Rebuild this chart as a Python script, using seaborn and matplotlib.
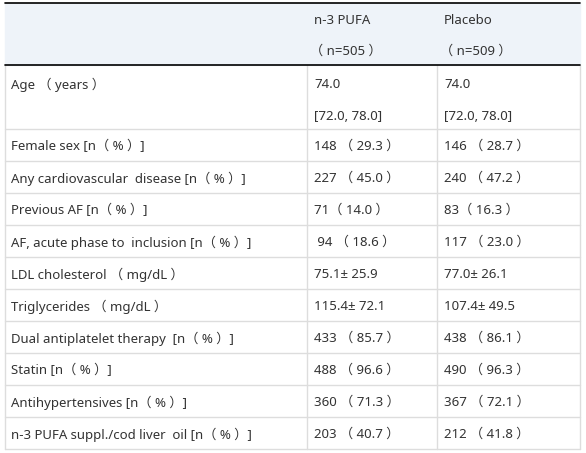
import matplotlib
matplotlib.use("Agg")
import matplotlib.pyplot as plt
import seaborn as sns

sns.set_theme(style="white")
plt.rcParams['font.family'] = ['Noto Sans', 'Noto Sans CJK SC', 'DejaVu Sans']

header = [["", "n-3 PUFA", "Placebo"], ["", "（ n=505 ）", "（ n=509 ）"]]
labels = ["Age （ years ）", "Female sex [n（ % ）]", "Any cardiovascular  disease [n（ % ）]",
          "Previous AF [n（ % ）]", "AF, acute phase to  inclusion [n（ % ）]",
          "LDL cholesterol （ mg/dL ）", "Triglycerides （ mg/dL ）",
          "Dual antiplatelet therapy  [n（ % ）]", "Statin [n（ % ）]",
          "Antihypertensives [n（ % ）]", "n-3 PUFA suppl./cod liver  oil [n（ % ）]"]
pufa = ["74.0\n[72.0, 78.0]", "148 （ 29.3 ）", "227 （ 45.0 ）", "71（ 14.0 ）", " 94 （ 18.6 ）",
        "75.1± 25.9", "115.4± 72.1", "433 （ 85.7 ）", "488 （ 96.6 ）", "360 （ 71.3 ）", "203 （ 40.7 ）"]
placebo = ["74.0\n[72.0, 78.0]", "146 （ 28.7 ）", "240 （ 47.2 ）", "83（ 16.3 ）", "117 （ 23.0 ）",
           "77.0± 26.1", "107.4± 49.5", "438 （ 86.1 ）", "490 （ 96.3 ）", "367 （ 72.1 ）", "212 （ 41.8 ）"]

W, H = 586, 453
fig = plt.figure(figsize=(W/100, H/100), dpi=100)
ax = fig.add_axes([0, 0, 1, 1])
ax.set_xlim(0, W); ax.set_ylim(H, 0); ax.axis("off")

xs = [5, 307, 437, 580]
tx = [11, 314, 444]
grid = "#dddddd"
fs = 9.5
col = "#333333"
dy = 1.5
ax.add_patch(plt.Rectangle((xs[0], 3), xs[-1]-xs[0], 62, color="#eef3f9", zorder=0))
for j in range(3):
    ax.text(tx[j], 19+dy, header[0][j], fontsize=fs, va="center", color=col)
    ax.text(tx[j]-4, 50+dy, header[1][j], fontsize=fs, va="center", color=col)
tops = [65] + [129 + 32*i for i in range(10)]
bots = tops[1:] + [449]
for i, (lab, a, b) in enumerate(zip(labels, pufa, placebo)):
    t, bt = tops[i], bots[i]
    if "\n" in a:
        ax.text(tx[0], t+18+dy, lab, fontsize=fs, va="center", color=col)
        for x, v in ((tx[1], a), (tx[2], b)):
            l1, l2 = v.split("\n")
            ax.text(x, t+18+dy, l1, fontsize=fs, va="center", color=col)
            ax.text(x, t+50+dy, l2, fontsize=fs, va="center", color=col)
    else:
        c = (t+bt)/2 + dy
        ax.text(tx[0], c, lab, fontsize=fs, va="center", color=col)
        ax.text(tx[1], c, a, fontsize=fs, va="center", color=col)
        ax.text(tx[2], c, b, fontsize=fs, va="center", color=col)
    ax.plot([xs[0], xs[-1]], [bt, bt], color=grid, lw=1)
for x in xs:
    ax.plot([x, x], [65, 449], color=grid, lw=1)
ax.plot([xs[0], xs[-1]], [3, 3], color="black", lw=1.2)
ax.plot([xs[0], xs[-1]], [65, 65], color="black", lw=1.2)
fig.savefig("out.png", dpi=100)
